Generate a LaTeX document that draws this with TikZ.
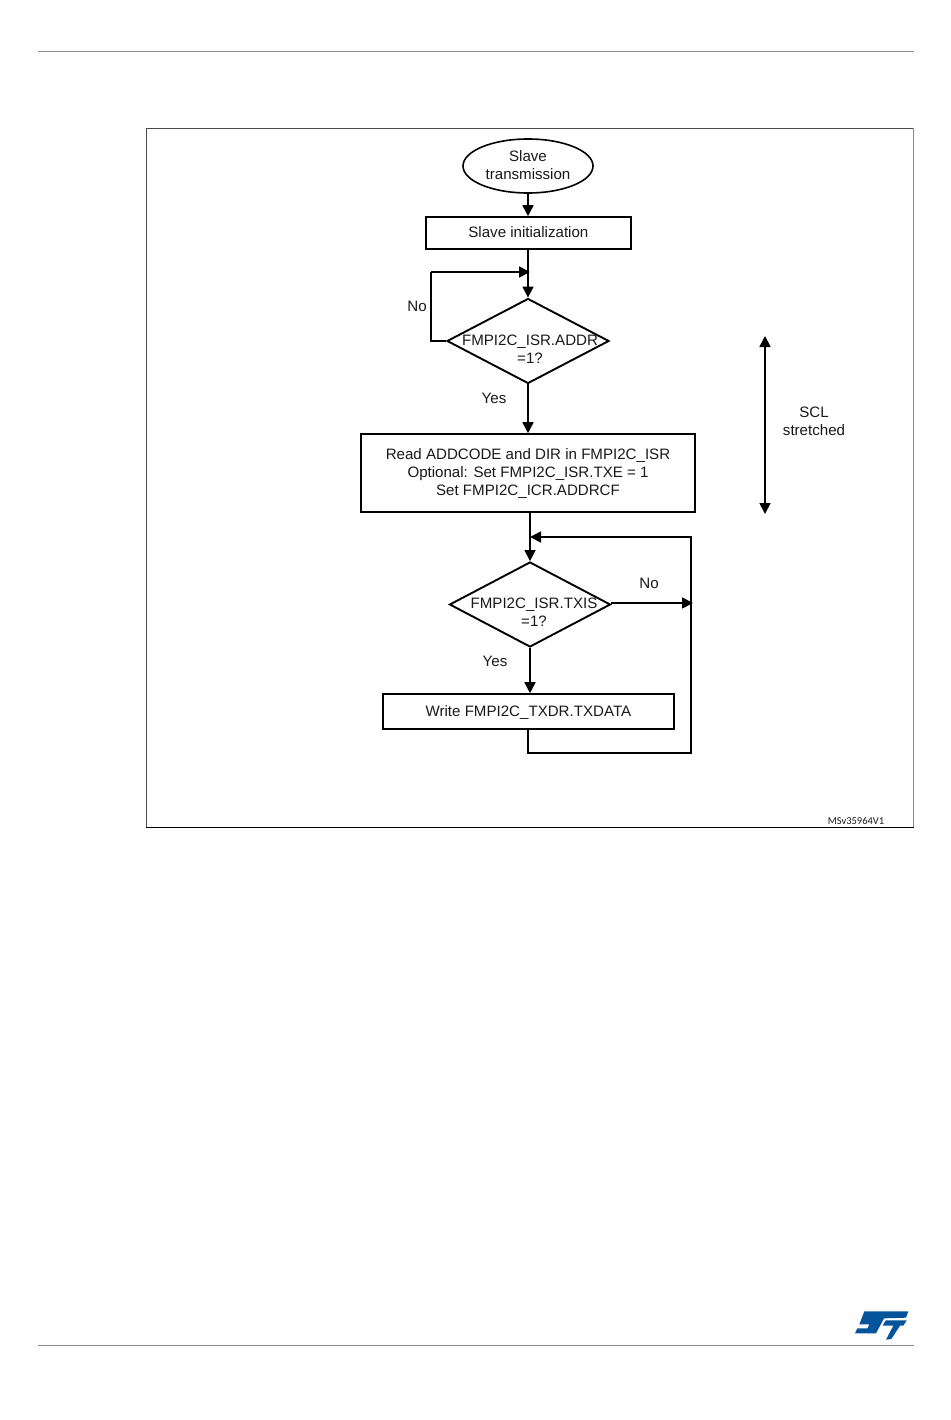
\documentclass[tikz,border=0pt]{standalone}
\usepackage{fontspec}
\setmainfont{Liberation Sans}
\newfontfamily\smallfont{Carlito}
\usetikzlibrary{arrows.meta,shapes.geometric}
\definecolor{stblue}{HTML}{03549A}
\definecolor{rulegray}{HTML}{8A8A8A}
\newcommand\lowered[1]{\raisebox{-1pt}[\height][\depth]{#1}}
\tikzset{
  every node/.style={font=\fontsize{15.1}{18}\selectfont,text=black!90},
  flow/.style={draw=black,line width=1.6pt},
  boxnode/.style={flow,rectangle,inner sep=0pt,align=center},
  decision/.style={flow,line width=1.9pt,diamond,inner sep=0pt,minimum width=162pt,minimum height=85pt},
  plain/.style={align=center,inner sep=0pt},
  conn/.style={draw=black,line width=1.7pt},
  arr/.style={conn,-{Triangle[length=11pt,width=11pt]}},
  darr/.style={conn,{Triangle[length=11pt,width=11pt]}-{Triangle[length=11pt,width=11pt]}},
}
\begin{document}
\begin{tikzpicture}[x=1pt,y=-1pt]
\useasboundingbox (0,0) rectangle (950,1420);
\fill[white] (0,0) rectangle (950,1420);
% page rules
\draw[rulegray,line width=1pt] (38,52) -- (914,52);
\draw[rulegray,line width=1pt] (38,1345) -- (914,1345);
% frame
\draw[black!70,line width=1.2pt] (146.2,827.5) -- (146.2,128.5) -- (913.5,128.5);
\draw[black!45,line width=1.2pt] (913.5,128.5) -- (913.5,827.5);
\draw[black,line width=1pt] (146.2,827.5) -- (913.5,827.5);
% nodes
\node[flow,ellipse,inner sep=0pt,minimum width=130pt,minimum height=54pt,align=center] (start) at (528,166) {\raisebox{1pt}{Slave}\\\raisebox{1pt}{transmission}};
\node[boxnode,minimum width=205pt,minimum height=32pt] (init) at (528.4,233) {\raisebox{1pt}{Slave initialization}};
\node[decision,label={[plain,xshift=2pt,yshift=-8pt]center:FMPI2C\_ISR.ADDR\\=1?}] (addr) at (528,341) {};
\node[boxnode,minimum width=334pt,minimum height=78pt] (read) at (528,473) {\lowered{Read ADDCODE and DIR in FMPI2C\_ISR}\\\lowered{Optional: Set FMPI2C\_ISR.TXE = 1}\\\lowered{Set FMPI2C\_ICR.ADDRCF}};
\node[decision,minimum width=161pt,label={[plain,xshift=4pt,yshift=-7.5pt]center:FMPI2C\_ISR.TXIS\\=1?}] (txis) at (530,604.5) {};
\node[boxnode,minimum width=291pt,minimum height=35pt] (write) at (528.4,711.5) {\lowered{Write FMPI2C\_TXDR.TXDATA}};
% labels
\node[plain] (noa) at (417,306) {No};
\node[plain] (yesa) at (494,398) {Yes};
\node[plain] (nob) at (649,583) {No};
\node[plain] (yesb) at (495,661) {Yes};
\node[plain] (scl) at (814,421) {SCL\\stretched};
\node[plain,font=\smallfont\fontsize{10.5}{12}\selectfont] (code) at (856,821) {MSv35964V1};
% free coordinates
\coordinate (loopa) at (431,272);
\coordinate (joina) at (530,272);
\coordinate (rtip) at (693,603);
\coordinate (rbot) at (691,753);
\coordinate (rtop) at (691,537);
\coordinate (joinb) at (530,537);
\coordinate (sclt) at (765,336);
\coordinate (sclb) at (765,514);
% connectors
\draw[arr] (start.south) -- (start.south |- init.north);
\draw[arr] (addr.north |- init.south) -- (addr.north);
\draw[conn] (addr.west) -| (loopa);
\draw[arr] (loopa) -- (joina);
\draw[arr] (addr.south) -- (read.north);
\draw[arr] ([xshift=2pt]read.south) -- (txis.north);
\draw[arr] (txis.south) -- (txis.south |- write.north);
\draw[arr] (txis.east |- rtip) -- (rtip);
\draw[arr] ([xshift=-0.4pt]write.south) |- (rbot) -- (rtop) -- (joinb);
\draw[darr] (sclt) -- (sclb);
% ST logo
\begin{scope}[shift={(850,1305)},x=0.3333pt,y=-0.3333pt]
\fill[stblue] (43,19) -- (175,19) -- (168,38) -- (102,40) -- (78,85) -- (15,85) -- (22,70) -- (52,70) -- (58,58) -- (28,58) -- cycle;
\fill[stblue] (107,46) -- (170,46) -- (160,62) -- (150,62) -- (124,102) -- (108,104) -- (130,62) -- (98,62) -- cycle;
\end{scope}
\end{tikzpicture}
\end{document}
